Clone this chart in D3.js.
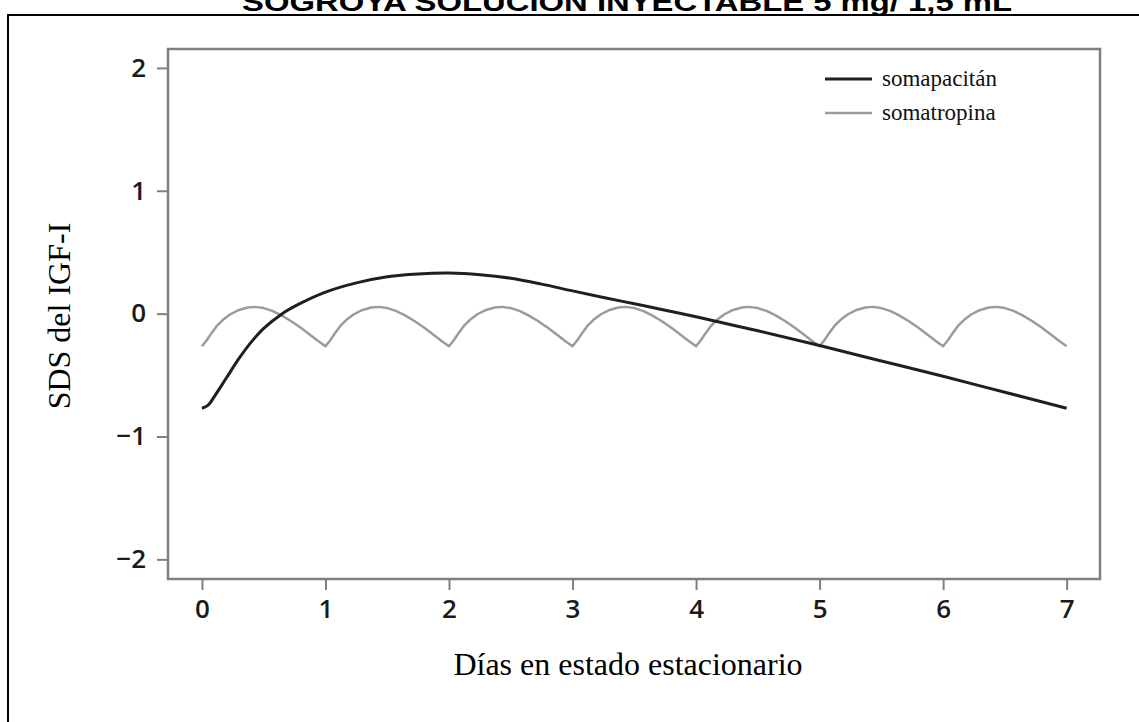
<!DOCTYPE html>
<html>
<head>
<meta charset="utf-8">
<script src="https://cdn.jsdelivr.net/npm/d3@7"></script>
<style>
  body { margin: 0; background: #fff; }
  svg { display: block; }
</style>
</head>
<body>
<div id="chart"></div>
<script>
// chart values
const title = 'SOGROYA SOLUCIÓN INYECTABLE 5 mg/ 1,5 mL'
const yLabel = 'SDS del IGF-I'
const xLabel = 'Días en estado estacionario'
const seriesNames = ['somapacitán', 'somatropina']
const xTicks = [0, 1, 2, 3, 4, 5, 6, 7]
const yTicks = [-2, -1, 0, 1, 2]

const somapacitanDays = [0, 0.05, 0.1, 0.2, 0.3, 0.4, 0.5, 0.65, 0.8, 1.0, 1.25, 1.5, 1.75, 2.0, 2.25, 2.5, 2.75, 3.0, 3.25, 3.5, 3.75, 4.0, 4.5, 5.0, 5.5, 6.0, 6.5, 7.0]
const somapacitanSDS = [-0.77, -0.745, -0.675, -0.52, -0.365, -0.23, -0.12, 0.0, 0.085, 0.175, 0.25, 0.30, 0.323, 0.33, 0.317, 0.288, 0.24, 0.185, 0.132, 0.08, 0.028, -0.026, -0.14, -0.26, -0.385, -0.51, -0.64, -0.77]

const somatropinaDays = [
  0, 0.04, 0.08, 0.12, 0.17, 0.23, 0.30, 0.37, 0.43, 0.50, 0.57, 0.64, 0.72, 0.80, 0.88, 0.94,
  1, 1.04, 1.08, 1.12, 1.17, 1.23, 1.30, 1.37, 1.43, 1.50, 1.57, 1.64, 1.72, 1.80, 1.88, 1.94,
  2, 2.04, 2.08, 2.12, 2.17, 2.23, 2.30, 2.37, 2.43, 2.50, 2.57, 2.64, 2.72, 2.80, 2.88, 2.94,
  3, 3.04, 3.08, 3.12, 3.17, 3.23, 3.30, 3.37, 3.43, 3.50, 3.57, 3.64, 3.72, 3.80, 3.88, 3.94,
  4, 4.04, 4.08, 4.12, 4.17, 4.23, 4.30, 4.37, 4.43, 4.50, 4.57, 4.64, 4.72, 4.80, 4.88, 4.94,
  5, 5.04, 5.08, 5.12, 5.17, 5.23, 5.30, 5.37, 5.43, 5.50, 5.57, 5.64, 5.72, 5.80, 5.88, 5.94,
  6, 6.04, 6.08, 6.12, 6.17, 6.23, 6.30, 6.37, 6.43, 6.50, 6.57, 6.64, 6.72, 6.80, 6.88, 6.94,
  7
]
const somatropinaSDS = [
  -0.265, -0.215, -0.155, -0.10, -0.05, -0.005, 0.030, 0.050, 0.055, 0.045, 0.022, -0.012, -0.060, -0.115, -0.175, -0.222,
  -0.265, -0.215, -0.155, -0.10, -0.05, -0.005, 0.030, 0.050, 0.055, 0.045, 0.022, -0.012, -0.060, -0.115, -0.175, -0.222,
  -0.265, -0.215, -0.155, -0.10, -0.05, -0.005, 0.030, 0.050, 0.055, 0.045, 0.022, -0.012, -0.060, -0.115, -0.175, -0.222,
  -0.265, -0.215, -0.155, -0.10, -0.05, -0.005, 0.030, 0.050, 0.055, 0.045, 0.022, -0.012, -0.060, -0.115, -0.175, -0.222,
  -0.265, -0.215, -0.155, -0.10, -0.05, -0.005, 0.030, 0.050, 0.055, 0.045, 0.022, -0.012, -0.060, -0.115, -0.175, -0.222,
  -0.265, -0.215, -0.155, -0.10, -0.05, -0.005, 0.030, 0.050, 0.055, 0.045, 0.022, -0.012, -0.060, -0.115, -0.175, -0.222,
  -0.265, -0.215, -0.155, -0.10, -0.05, -0.005, 0.030, 0.050, 0.055, 0.045, 0.022, -0.012, -0.060, -0.115, -0.175, -0.222,
  -0.265
]

const width = 1139
const height = 722
const plot = { left: 168, top: 49, right: 1100, bottom: 579 }
const axisColor = '#7f7f7f'
const colors = ['#1f1f1f', '#9b9b9b']

const svg = d3.select('#chart')
  .append('svg')
  .attr('width', width)
  .attr('height', height)

// outer frame (left and top edges only show)
svg.append('path')
  .attr('d', `M8,${height} L8,15 L${width},15`)
  .attr('fill', 'none')
  .attr('stroke', '#000')
  .attr('stroke-width', 2)

// title, cropped at the top like the source
svg.append('text')
  .attr('x', 627)
  .attr('y', 11)
  .attr('text-anchor', 'middle')
  .attr('textLength', 770)
  .attr('lengthAdjust', 'spacingAndGlyphs')
  .style('font-family', '"Liberation Sans", Arial, sans-serif')
  .style('font-weight', 'bold')
  .style('font-size', '26px')
  .text(title)

let x = d3.scaleLinear()
  .domain([-0.275, 7.27])
  .range([plot.left, plot.right])

let y = d3.scaleLinear()
  .domain([-2.16, 2.154])
  .range([plot.bottom, plot.top])

// plot box
svg.append('rect')
  .attr('x', plot.left)
  .attr('y', plot.top)
  .attr('width', plot.right - plot.left)
  .attr('height', plot.bottom - plot.top)
  .attr('fill', 'none')
  .attr('stroke', axisColor)
  .attr('stroke-width', 2.5)

let fmt = d3.format('d')

let xAxis = svg.append('g')
  .attr('transform', `translate(0, ${plot.bottom})`)
  .call(d3.axisBottom(x).tickValues(xTicks).tickFormat(fmt).tickSize(11).tickPadding(10).tickSizeOuter(0))

let yAxis = svg.append('g')
  .attr('transform', `translate(${plot.left}, 0)`)
  .call(d3.axisLeft(y).tickValues(yTicks).tickFormat(fmt).tickSize(11).tickPadding(11).tickSizeOuter(0))

for (let ax of [xAxis, yAxis]) {
  ax.select('.domain').remove()
  ax.selectAll('.tick line')
    .attr('stroke', axisColor)
    .attr('stroke-width', 2)
  ax.selectAll('.tick text')
    .attr('fill', '#1a1a1a')
    .style('font-family', '"Open Sans", sans-serif')
    .style('font-weight', 600)
    .style('font-size', '26px')
}

let line = d3.line()
  .x((d) => x(d[0]))
  .y((d) => y(d[1]))

svg.append('path')
  .datum(d3.zip(somatropinaDays, somatropinaSDS))
  .attr('fill', 'none')
  .attr('stroke', colors[1])
  .attr('stroke-width', 2.5)
  .attr('stroke-linejoin', 'round')
  .attr('d', line)

svg.append('path')
  .datum(d3.zip(somapacitanDays, somapacitanSDS))
  .attr('fill', 'none')
  .attr('stroke', colors[0])
  .attr('stroke-width', 3)
  .attr('d', line.curve(d3.curveCatmullRom.alpha(0.5)))

// legend
let legend = svg.selectAll('.legend')
  .data(seriesNames)
  .enter().append('g')
  .attr('class', 'legend')
  .attr('transform', (d, i) => `translate(825, ${79 + i * 34})`)

legend.append('line')
  .attr('x1', 0)
  .attr('x2', 47)
  .attr('stroke', (d, i) => colors[i])
  .attr('stroke-width', (d, i) => i === 0 ? 3 : 2.5)

legend.append('text')
  .attr('x', 57)
  .attr('y', 7)
  .style('font-family', '"Liberation Serif", "Times New Roman", serif')
  .style('font-size', '23px')
  .attr('fill', '#111')
  .text((d) => d)

// axis titles
svg.append('text')
  .attr('transform', 'translate(70, 316) rotate(-90)')
  .attr('text-anchor', 'middle')
  .style('font-family', '"Liberation Serif", "Times New Roman", serif')
  .style('font-size', '32px')
  .attr('fill', '#000')
  .text(yLabel)

svg.append('text')
  .attr('x', 628)
  .attr('y', 675)
  .attr('text-anchor', 'middle')
  .style('font-family', '"Liberation Serif", "Times New Roman", serif')
  .style('font-size', '32px')
  .attr('fill', '#000')
  .text(xLabel)
</script>
</body>
</html>
